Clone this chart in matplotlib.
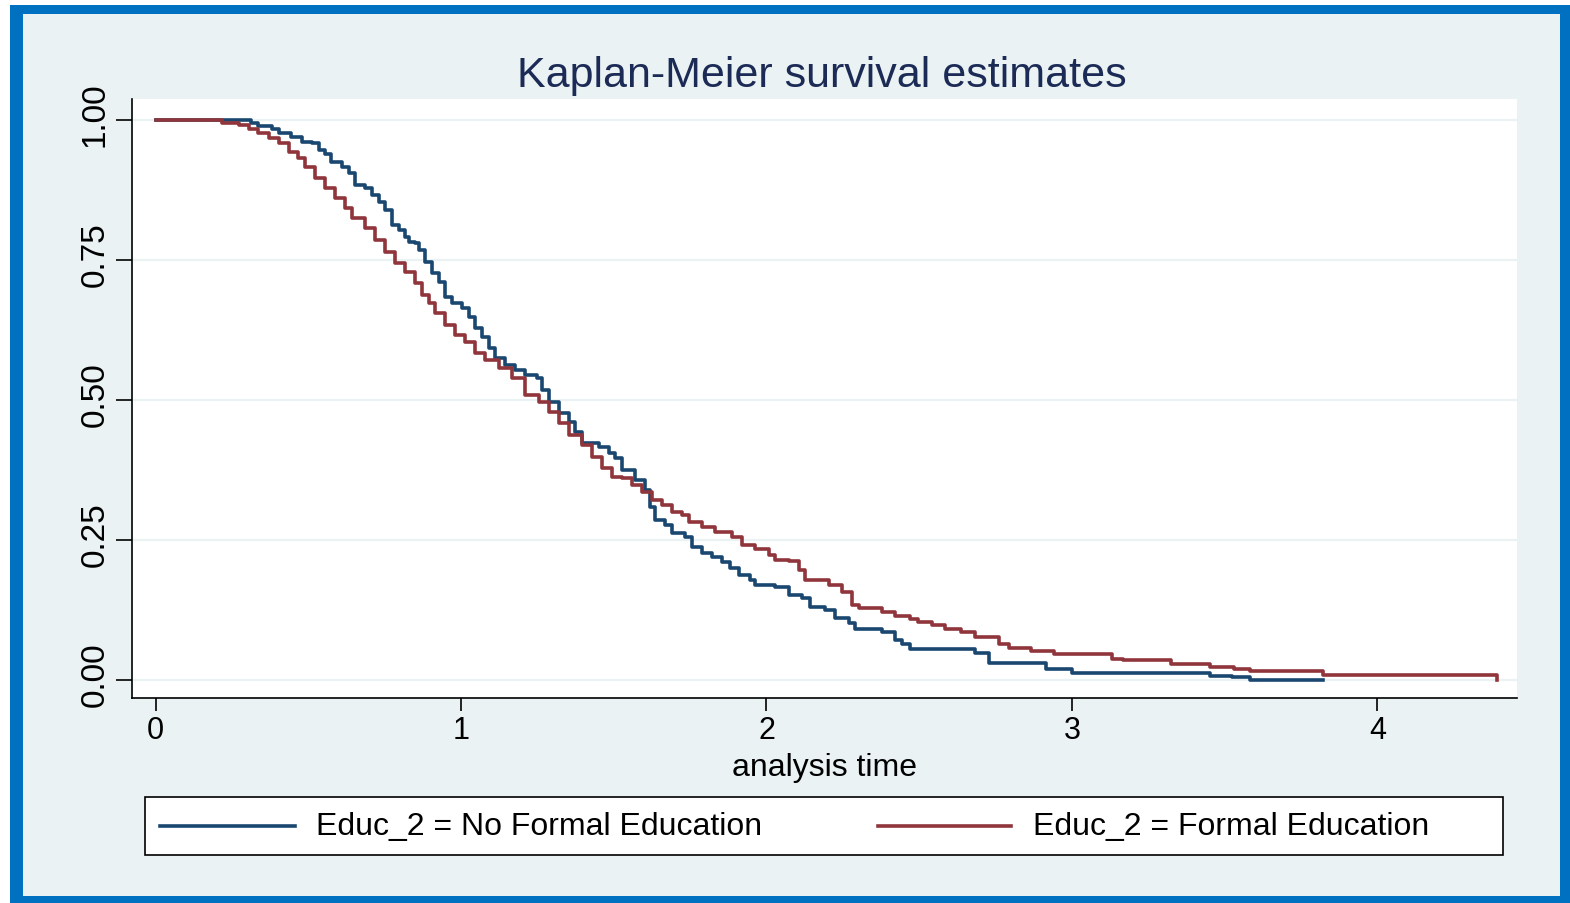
import matplotlib.pyplot as plt
import matplotlib.transforms as mtransforms
from matplotlib.lines import Line2D
from matplotlib.patches import Rectangle

# Kaplan-Meier estimates (analysis time, survival)
no_edu_t = [0.000, 0.314, 0.337, 0.380, 0.403, 0.445, 0.478, 0.511, 0.534, 0.554,
            0.576, 0.609, 0.632, 0.652, 0.685, 0.708, 0.730, 0.750, 0.773, 0.796,
            0.816, 0.829, 0.848, 0.861, 0.881, 0.904, 0.927, 0.947, 0.970, 1.002,
            1.025, 1.045, 1.068, 1.091, 1.110, 1.143, 1.176, 1.209, 1.248, 1.264,
            1.287, 1.320, 1.353, 1.372, 1.395, 1.451, 1.484, 1.503, 1.526, 1.569,
            1.602, 1.618, 1.634, 1.667, 1.690, 1.733, 1.756, 1.788, 1.821, 1.854,
            1.880, 1.910, 1.946, 1.962, 2.028, 2.073, 2.116, 2.142, 2.191, 2.224,
            2.270, 2.290, 2.378, 2.421, 2.443, 2.470, 2.683, 2.728, 2.915, 3.000,
            3.452, 3.524, 3.583, 3.822]
no_edu_s = [1.000, 0.995, 0.988, 0.984, 0.977, 0.970, 0.961, 0.959, 0.946, 0.939,
            0.925, 0.916, 0.905, 0.884, 0.879, 0.866, 0.854, 0.839, 0.813, 0.804,
            0.791, 0.782, 0.780, 0.768, 0.746, 0.727, 0.711, 0.684, 0.673, 0.664,
            0.648, 0.629, 0.613, 0.593, 0.575, 0.563, 0.554, 0.545, 0.539, 0.518,
            0.496, 0.477, 0.461, 0.443, 0.423, 0.416, 0.405, 0.396, 0.375, 0.357,
            0.339, 0.309, 0.286, 0.277, 0.263, 0.255, 0.238, 0.227, 0.220, 0.211,
            0.200, 0.188, 0.179, 0.170, 0.166, 0.152, 0.146, 0.130, 0.125, 0.111,
            0.102, 0.091, 0.086, 0.071, 0.064, 0.055, 0.048, 0.030, 0.020, 0.013,
            0.007, 0.005, 0.000, 0.000]

edu_t = [0.000, 0.216, 0.272, 0.305, 0.337, 0.370, 0.403, 0.436, 0.468, 0.488,
         0.521, 0.554, 0.586, 0.619, 0.642, 0.685, 0.717, 0.750, 0.783, 0.816,
         0.848, 0.871, 0.894, 0.914, 0.947, 0.979, 1.012, 1.045, 1.078, 1.123,
         1.166, 1.209, 1.255, 1.287, 1.320, 1.353, 1.395, 1.428, 1.461, 1.494,
         1.526, 1.559, 1.592, 1.625, 1.657, 1.690, 1.723, 1.746, 1.788, 1.831,
         1.887, 1.919, 1.962, 2.008, 2.028, 2.073, 2.106, 2.126, 2.204, 2.247,
         2.280, 2.303, 2.378, 2.421, 2.470, 2.496, 2.542, 2.584, 2.637, 2.683,
         2.761, 2.794, 2.866, 2.941, 3.131, 3.167, 3.325, 3.452, 3.531, 3.583,
         3.822, 4.392]
edu_s = [1.000, 0.995, 0.991, 0.984, 0.977, 0.968, 0.959, 0.943, 0.932, 0.916,
         0.896, 0.879, 0.861, 0.843, 0.825, 0.807, 0.786, 0.764, 0.745, 0.729,
         0.709, 0.688, 0.673, 0.655, 0.634, 0.616, 0.604, 0.584, 0.571, 0.557,
         0.539, 0.509, 0.496, 0.479, 0.459, 0.438, 0.420, 0.398, 0.379, 0.363,
         0.361, 0.348, 0.336, 0.321, 0.313, 0.300, 0.295, 0.282, 0.273, 0.264,
         0.255, 0.241, 0.234, 0.223, 0.214, 0.213, 0.196, 0.179, 0.170, 0.157,
         0.134, 0.129, 0.121, 0.114, 0.109, 0.104, 0.098, 0.091, 0.086, 0.077,
         0.064, 0.057, 0.052, 0.046, 0.038, 0.036, 0.029, 0.023, 0.020, 0.016,
         0.009, 0.000]

series_labels = ["Educ_2 = No Formal Education", "Educ_2 = Formal Education"]
x_ticks = [0, 1, 2, 3, 4]
y_ticks = [0.00, 0.25, 0.50, 0.75, 1.00]
title = "Kaplan-Meier survival estimates"
x_label = "analysis time"

NAVY = "#1A476F"
MAROON = "#90353B"
BG = "#EAF2F3"
FRAME = "#0071C1"
TITLE_COLOR = "#1C2B56"

plt.rcParams["font.family"] = ["Liberation Sans", "DejaVu Sans"]

W, H = 1570, 904
fig = plt.figure(figsize=(W / 100, H / 100), dpi=100)
fig.patch.set_facecolor("white")


def fx(px):
    return px / W


def fy(py):
    return 1 - py / H


# blue frame + graph region background
fig.add_artist(Rectangle((fx(10), fy(904)), fx(1570) - fx(10), fy(6) - fy(904),
                         transform=fig.transFigure, facecolor=FRAME, edgecolor="none", zorder=0))
fig.add_artist(Rectangle((fx(23), fy(897)), fx(1560) - fx(23), fy(15) - fy(897),
                         transform=fig.transFigure, facecolor=BG, edgecolor="none", zorder=0))

ax = fig.add_axes([fx(132), fy(699), fx(1517) - fx(132), fy(100) - fy(699)])
ax.set_facecolor("white")

ax.step(no_edu_t, no_edu_s, where="post", color=NAVY, lw=2.6, zorder=3)
ax.step(edu_t, edu_s, where="post", color=MAROON, lw=2.6, zorder=3)

ax.set_xlim(-0.077, 4.457)
ax.set_ylim(-0.032, 1.037)
ax.set_xticks(x_ticks)
ax.set_xticklabels([str(v) for v in x_ticks])
ax.set_yticks(y_ticks)
ax.set_yticklabels([f"{v:.2f}" for v in y_ticks], rotation=90, va="center")
ax.yaxis.grid(True, color=BG, lw=1.6, zorder=1)
ax.set_axisbelow(True)

for side in ["top", "right"]:
    ax.spines[side].set_visible(False)
for side in ["left", "bottom"]:
    ax.spines[side].set_linewidth(1.2)
    ax.spines[side].set_color("black")

ax.tick_params(axis="y", length=11.5, width=1.2, pad=4, labelsize=24)
ax.tick_params(axis="x", length=9.5, width=1.2, pad=3, labelsize=22)
ax.set_xlabel(x_label, fontsize=23, labelpad=5)

# Stata sets the rotated y labels a little above their ticks
shift_up = mtransforms.ScaledTranslation(0, 6 / 100, fig.dpi_scale_trans)
for lab in ax.get_yticklabels():
    lab.set_transform(lab.get_transform() + shift_up)

fig.text(fx(822), fy(87), title, ha="center", va="baseline",
         fontsize=31, color=TITLE_COLOR)

# legend box drawn below the plot, like Stata's
fig.add_artist(Rectangle((fx(145), fy(856)), fx(1503) - fx(145), fy(798) - fy(856),
                         transform=fig.transFigure, facecolor="white",
                         edgecolor="black", lw=1.2, zorder=2))
ly = fy(827)
for (x0, x1, tx), color, label in zip([(160, 295, 316), (878, 1011, 1033)],
                                      [NAVY, MAROON], series_labels):
    fig.add_artist(Line2D([fx(x0), fx(x1)], [ly, ly], transform=fig.transFigure,
                          color=color, lw=2.6, zorder=3))
    fig.text(fx(tx), ly, label, ha="left", va="center", fontsize=23, zorder=3)

fig.savefig("out.png", dpi=100, facecolor=fig.get_facecolor())
